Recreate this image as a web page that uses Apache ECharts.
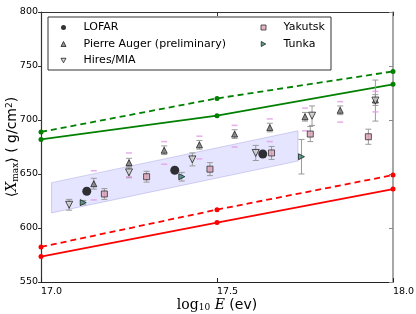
<!DOCTYPE html>
<html><head><meta charset="utf-8">
<script src="https://cdn.jsdelivr.net/npm/echarts@6/dist/echarts.min.js"></script>
<style>html,body{margin:0;padding:0;background:#fff}#c{width:416px;height:314px}</style>
</head><body><div id="c"></div>
<script>
// ---- data ----
const lineX = [17.0, 17.5, 18.0];
const greenDashed = [689, 720, 745];
const greenSolid = [682, 704, 733];
const redDashed = [582.5, 617, 649];
const redSolid = [573.5, 605, 636];

const bandX = [17.03, 17.73];
const bandLow = [614, 662];
const bandHigh = [642, 690];

const lofarE = [17.13, 17.38, 17.63];
const lofarX = [634, 653.5, 668.5];

const augerE = [17.15, 17.25, 17.35, 17.45, 17.55, 17.65, 17.75, 17.85, 17.95];
const augerX = [641, 660.5, 672, 677, 687, 693, 703, 709, 718.5];
const augerErr = [5, 4, 4, 4, 4, 4, 4, 4, 5];
const augerSysUp = [12, 9, 8, 8, 8, 8, 8, 8, 8];
const augerSysDn = [15, 13, 13, 13, 12, 13, 13, 11, 11];

const hiresE = [17.08, 17.25, 17.43, 17.61, 17.77, 17.95];
const hiresX = [621.5, 651.5, 663.5, 669.5, 704, 718];
const hiresErr = [5, 5, 6, 7, 9, 19];

const yakE = [17.18, 17.30, 17.48, 17.655, 17.765, 17.93];
const yakX = [631.5, 647.5, 654.5, 669.5, 687, 684.5];
const yakErr = [5, 5, 6, 6, 7, 7];

const tunkaE = [17.12, 17.40, 17.74];
const tunkaX = [623.5, 647.5, 666];
const tunkaErr = [2, 4, 16];

// ---- helpers ----
const zip = (a, b) => a.map((v, i) => [v, b[i]]);
function errSeries(name, E, V, Err) {
  return {
    type: 'custom', name: name + ' err', z: 3, silent: true, clip: true,
    data: E.map((e, i) => [e, V[i] - Err[i], V[i] + Err[i]]),
    encode: { x: 0, y: [1, 2] },
    renderItem(params, api) {
      const lo = api.coord([api.value(0), api.value(1)]);
      const hi = api.coord([api.value(0), api.value(2)]);
      const w = 3, st = { stroke: '#9a9a9a', lineWidth: 1 };
      return { type: 'group', children: [
        { type: 'line', shape: { x1: lo[0], y1: lo[1], x2: hi[0], y2: hi[1] }, style: st },
        { type: 'line', shape: { x1: lo[0] - w, y1: lo[1], x2: lo[0] + w, y2: lo[1] }, style: st },
        { type: 'line', shape: { x1: hi[0] - w, y1: hi[1], x2: hi[0] + w, y2: hi[1] }, style: st }
      ] };
    }
  };
}
function lineSeries(name, Y, color, dashed) {
  return {
    type: 'line', name, data: zip(lineX, Y), z: 2,
    symbol: 'circle', symbolSize: 5, showSymbol: true,
    itemStyle: { color }, lineStyle: { color, width: 1.8, type: dashed ? [6, 4] : 'solid' }
  };
}
const downTri = 'path://M0,0 L10,0 L5,9 Z';
const rightTri = 'path://M0,0 L9,5 L0,10 Z';
const FONT = 'DejaVu Sans';
const legendCommon = { orient: 'vertical', top: 22, padding: 0, itemWidth: 5, itemHeight: 5, itemGap: 5.5, selectedMode: false, z: 5,
  textStyle: { fontFamily: FONT, fontSize: 11, color: '#000', padding: [0, 0, 0, 12.5], lineHeight: 11 } };
const augerStyle = { color: '#7a7a7a', borderColor: '#222', borderWidth: 1 };
const hiresStyle = { color: '#d0d0d0', borderColor: '#222', borderWidth: 1 };
const yakStyle = { color: '#dca0b4', borderColor: '#333', borderWidth: 1 };
const tunkaStyle = { color: '#2f8a78', borderColor: '#222', borderWidth: 1 };

const chart = echarts.init(document.getElementById('c'), null, { renderer: 'canvas' });
chart.setOption({
  animation: false,
  backgroundColor: '#fff',
  grid: { left: 41, right: 23, top: 12, bottom: 32, containLabel: false, outerBoundsMode: 'none' },
  xAxis: [
    { type: 'value', min: 17, max: 18, interval: 0.5, position: 'bottom',
      axisLine: { show: true, lineStyle: { color: '#222', width: 1.2 } },
      axisTick: { show: true, inside: true, length: 4, lineStyle: { color: '#222' } },
      axisLabel: { formatter: v => v.toFixed(1), fontSize: 9.5, color: '#000', fontFamily: FONT, align: 'left', margin: 5 },
      splitLine: { show: false },
      name: '{r|log}{s|10}{i| E}{n| (ev)}', nameLocation: 'middle', nameGap: 16, nameMoveOverlap: false,
      nameTextStyle: { color: '#000', fontSize: 14, fontFamily: FONT,
        rich: { r: { fontSize: 14, fontFamily: 'DejaVu Serif', color: '#000' },
                s: { fontSize: 9, fontFamily: 'DejaVu Serif', color: '#000', verticalAlign: 'bottom', padding: [5, 0, 0, 0] },
                i: { fontSize: 14, fontFamily: 'DejaVu Serif', fontStyle: 'italic', color: '#000' },
                n: { fontSize: 14, fontFamily: FONT, color: '#000' } } } },
    { type: 'value', min: 17, max: 18, interval: 0.5, position: 'top',
      axisLine: { show: true, lineStyle: { color: '#333', width: 1.2 } },
      axisTick: { show: true, inside: true, length: 4, lineStyle: { color: '#333' } },
      axisLabel: { show: false }, splitLine: { show: false } }
  ],
  yAxis: [
    { type: 'value', min: 550, max: 800, interval: 50, position: 'left',
      axisLine: { show: true, lineStyle: { color: '#333', width: 1.2 } },
      axisTick: { show: true, inside: false, length: 3, lineStyle: { color: '#333' } },
      axisLabel: { fontSize: 9.5, color: '#000', fontFamily: FONT, margin: 3 },
      splitLine: { show: false },
      name: '{b|⟨}{i|X}{s|max}{b|⟩}{n| ( g/cm}{p|2}{n|)}', nameLocation: 'middle', nameRotate: 90, nameGap: 21, nameMoveOverlap: false,
      nameTextStyle: { color: '#000', fontSize: 14, fontFamily: FONT,
        rich: { b: { fontSize: 14, fontFamily: 'DejaVu Serif', color: '#000' },
                i: { fontSize: 14, fontFamily: 'DejaVu Serif', fontStyle: 'italic', color: '#000' },
                s: { fontSize: 9, fontFamily: 'DejaVu Serif', color: '#000', verticalAlign: 'bottom', padding: [5, 0, 0, 0] },
                p: { fontSize: 9, fontFamily: FONT, color: '#000', verticalAlign: 'top', padding: [0, 0, 6, 0] },
                n: { fontSize: 14, fontFamily: FONT, color: '#000' } } } },
    { type: 'value', min: 550, max: 800, interval: 50, position: 'right',
      axisLine: { show: true, lineStyle: { color: '#8a8a8a', width: 1.5 } },
      axisTick: { show: true, inside: true, length: 4, lineStyle: { color: '#8a8a8a' } },
      axisLabel: { show: false }, splitLine: { show: false } }
  ],
  legend: [
    Object.assign({ data: [
      { name: 'LOFAR' },
      { name: 'Pierre Auger (preliminary)', itemStyle: augerStyle },
      { name: 'Hires/MIA', itemStyle: hiresStyle }], left: 60.5 }, legendCommon),
    Object.assign({ data: [
      { name: 'Yakutsk', itemStyle: yakStyle },
      { name: 'Tunka', itemStyle: tunkaStyle }], left: 260.5 }, legendCommon)
  ],
  graphic: [
    { type: 'rect', shape: { x: 48, y: 17, width: 283, height: 53 }, z: 3,
      style: { fill: '#fff', stroke: '#333', lineWidth: 1 } }
  ],
  series: [
    { type: 'custom', name: 'band', z: 1, silent: true, clip: true,
      data: bandX.map((x, i) => [x, bandLow[i], bandHigh[i]]),
      encode: { x: 0, y: [1, 2] },
      renderItem(params, api) {
        if (params.dataIndex !== 0) return;
        const pts = [];
        bandX.forEach((x, i) => pts.push(api.coord([x, bandHigh[i]])));
        for (let i = bandX.length - 1; i >= 0; i--) pts.push(api.coord([bandX[i], bandLow[i]]));
        return { type: 'polygon', shape: { points: pts },
          style: { fill: 'rgba(0,0,255,0.1)', stroke: 'rgba(90,90,200,0.25)', lineWidth: 1 } };
      } },
    lineSeries('green dashed', greenDashed, '#008000', true),
    lineSeries('green solid', greenSolid, '#008000', false),
    lineSeries('red dashed', redDashed, '#ff0000', true),
    lineSeries('red solid', redSolid, '#ff0000', false),
    errSeries('Auger', augerE, augerX, augerErr),
    errSeries('Hires', hiresE, hiresX, hiresErr),
    errSeries('Yakutsk', yakE, yakX, yakErr),
    errSeries('Tunka', tunkaE, tunkaX, tunkaErr),
    { type: 'scatter', name: 'Auger sys', z: 3, silent: true, symbol: 'rect', symbolSize: [6, 1.5],
      itemStyle: { color: '#e29ae6' },
      data: augerE.map((e, i) => [e, augerX[i] + augerSysUp[i]]).concat(augerE.map((e, i) => [e, augerX[i] - augerSysDn[i]])) },
    { type: 'scatter', name: 'Pierre Auger (preliminary)', z: 4, symbol: 'triangle', symbolSize: 6,
      itemStyle: augerStyle, data: zip(augerE, augerX) },
    { type: 'scatter', name: 'Hires/MIA', z: 4, symbol: downTri, symbolSize: 7,
      itemStyle: hiresStyle, data: zip(hiresE, hiresX) },
    { type: 'scatter', name: 'Yakutsk', z: 4, symbol: 'rect', symbolSize: 6,
      itemStyle: yakStyle, data: zip(yakE, yakX) },
    { type: 'scatter', name: 'Tunka', z: 4, symbol: rightTri, symbolSize: 6,
      itemStyle: tunkaStyle, data: zip(tunkaE, tunkaX) },
    { type: 'scatter', name: 'LOFAR', z: 5, symbol: 'circle', symbolSize: 9,
      itemStyle: { color: '#000' }, data: zip(lofarE, lofarX) }
  ]
});
</script></body></html>
